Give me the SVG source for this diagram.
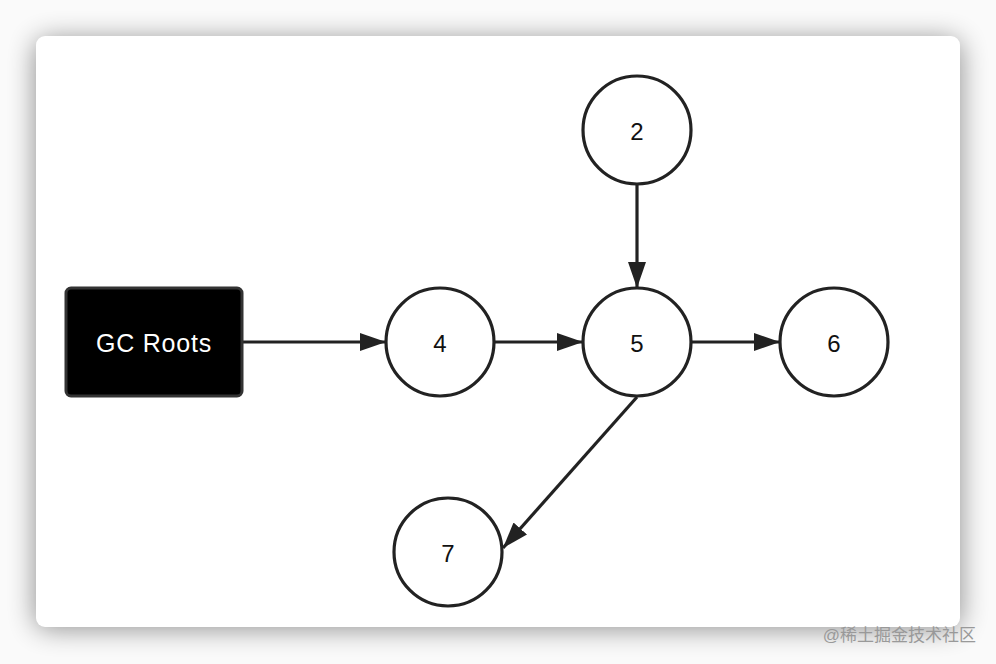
<svg xmlns="http://www.w3.org/2000/svg" width="996" height="664" viewBox="0 0 996 664">
<defs>
<filter id="sh" x="-10%" y="-10%" width="120%" height="120%"><feGaussianBlur stdDeviation="14"/></filter>
<marker id="ah" markerWidth="26" markerHeight="20" refX="26" refY="10" orient="auto" markerUnits="userSpaceOnUse"><path d="M0,1 L26,10 L0,19 z" fill="#222"/></marker>
<style>
.c{fill:#fff;stroke:#222;stroke-width:3.2}
.t{font-family:"Liberation Sans",Arial,sans-serif;font-size:24px;text-anchor:middle;dominant-baseline:central;fill:#111}
.e{stroke:#222;stroke-width:3.2;fill:none;marker-end:url(#ah)}
</style>
</defs>
<rect width="996" height="664" fill="#fafafa"/>
<rect x="36" y="40" width="924" height="588" rx="10" fill="#000" opacity="0.45" filter="url(#sh)"/>
<rect x="36" y="36" width="924" height="591" rx="9" fill="#fff"/>
<g id="connectors">
<line class="e" x1="243" y1="342" x2="386" y2="342"/>
<line class="e" x1="494" y1="342" x2="583" y2="342"/>
<line class="e" x1="691" y1="342" x2="780" y2="342"/>
<line class="e" x1="637" y1="184" x2="637" y2="288"/>
<line class="e" x1="637" y1="397" x2="503" y2="548"/>
</g>
<g id="gcroots"><rect x="66" y="288" width="176" height="108" rx="5" fill="#000" stroke="#333" stroke-width="3"/><text class="t" x="154" y="343" style="fill:#fff;font-size:25px;letter-spacing:0.8px">GC Roots</text></g>
<g id="n2"><circle class="c" cx="637" cy="130" r="54"/><text class="t" x="637" y="131">2</text></g>
<g id="n4"><circle class="c" cx="440" cy="342" r="54"/><text class="t" x="440" y="343">4</text></g>
<g id="n5"><circle class="c" cx="637" cy="342" r="54"/><text class="t" x="637" y="343">5</text></g>
<g id="n6"><circle class="c" cx="834" cy="342" r="54"/><text class="t" x="834" y="343">6</text></g>
<g id="n7"><circle class="c" cx="448" cy="552" r="54"/><text class="t" x="448" y="553">7</text></g>
<text x="976" y="641" text-anchor="end" font-family="'Liberation Sans','Noto Sans CJK SC',sans-serif" font-size="17" fill="#999">@稀土掘金技术社区</text>
</svg>
